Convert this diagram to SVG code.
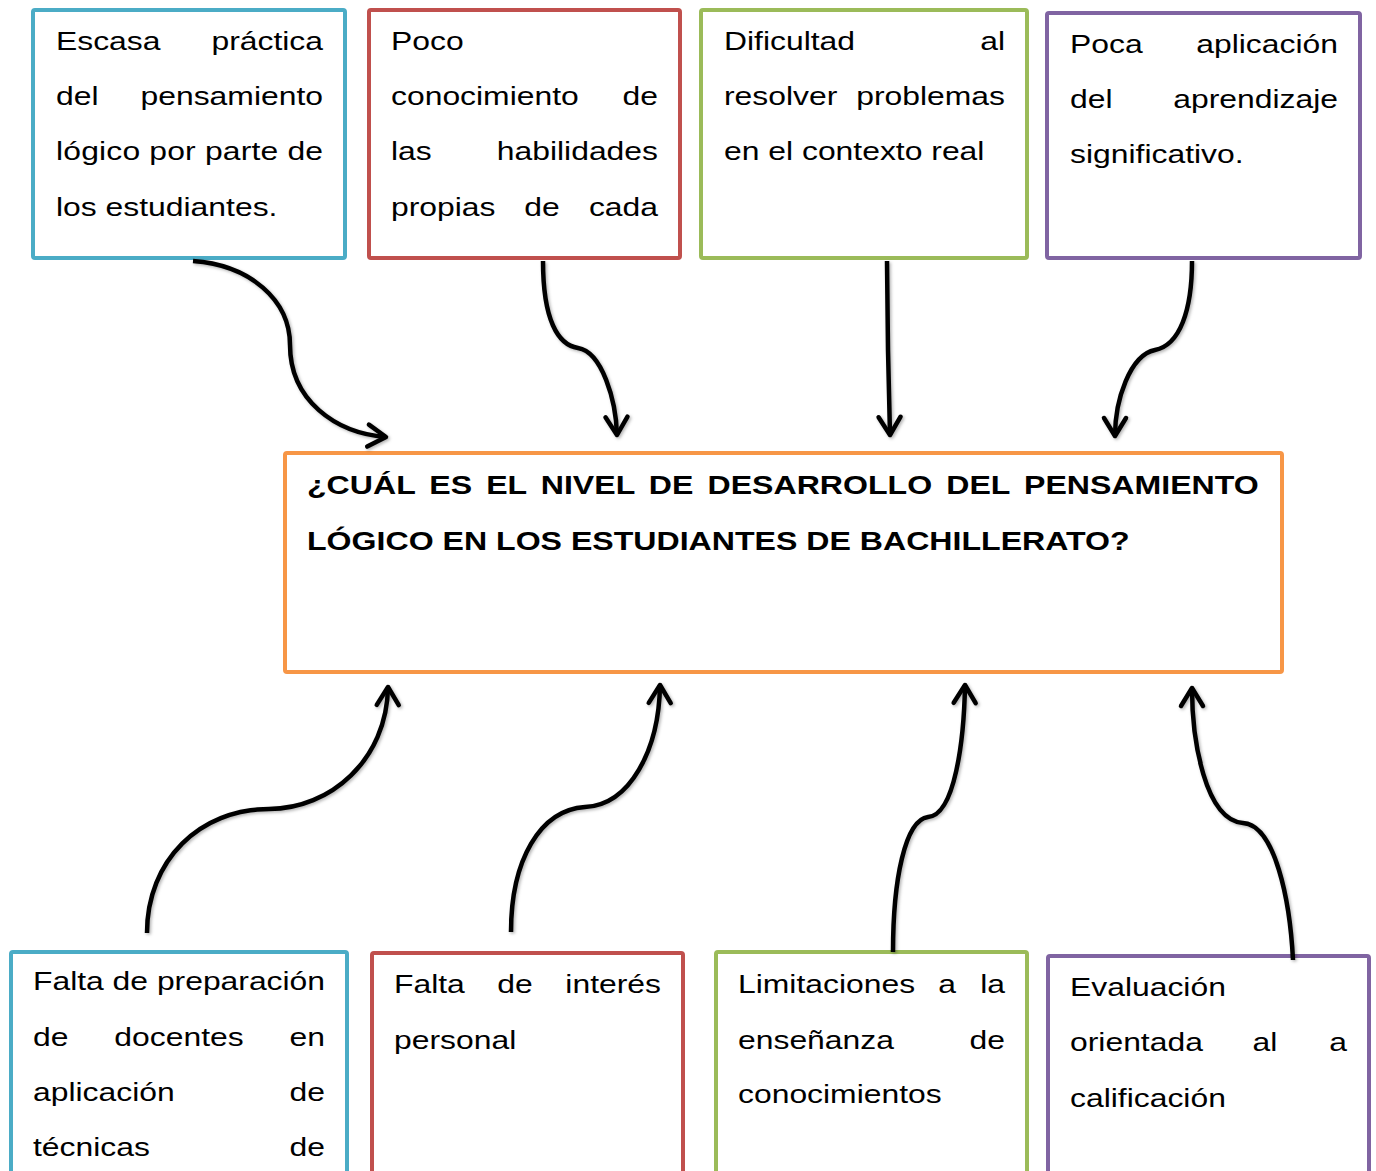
<svg xmlns="http://www.w3.org/2000/svg" width="1376" height="1171" viewBox="0 0 1376 1171">
<style>
.box{fill:#fff;stroke-width:4}
.blue{stroke:#4BACC6}.red{stroke:#C0504D}.green{stroke:#9BBB59}.purple{stroke:#8064A2}.orange{stroke:#F79646}
.t{font-family:"Liberation Sans",Arial,sans-serif;font-size:26px;fill:#000}
.b{font-weight:bold}
.e{text-anchor:end}.m{text-anchor:middle}
.arr{fill:none;stroke:#000;stroke-width:4.5;stroke-linecap:butt;stroke-linejoin:round}
</style>
<defs>
<filter id="sh" x="-20%" y="-20%" width="140%" height="140%">
<feDropShadow dx="1.5" dy="1.5" stdDeviation="1.5" flood-color="#000" flood-opacity="0.3"/>
</filter>
<marker id="ah" markerUnits="userSpaceOnUse" markerWidth="30" markerHeight="30" viewBox="0 0 30 30" refX="24" refY="15" orient="auto">
<path d="M6,4 L24,15 L6,26" fill="none" stroke="#000" stroke-width="4.5" stroke-linecap="round" stroke-linejoin="round"/>
</marker>
</defs>
<rect width="1376" height="1171" fill="#fff"/>

<g id="n1">
<rect class="box blue" x="33" y="10" width="312" height="248" rx="2"/>
<text class="t" transform="translate(56 50) scale(1.226 1)">Escasa</text>
<text class="t e" transform="translate(323 50) scale(1.226 1)">práctica</text>
<text class="t" transform="translate(56 105) scale(1.226 1)">del</text>
<text class="t e" transform="translate(323 105) scale(1.226 1)">pensamiento</text>
<text class="t" transform="translate(56 160) scale(1.226 1)" textLength="217.8" lengthAdjust="spacing">lógico por parte de</text>
<text class="t" transform="translate(56 216) scale(1.226 1)">los estudiantes.</text>
</g>

<g id="n2">
<rect class="box red" x="369" y="10" width="311" height="248" rx="2"/>
<text class="t" transform="translate(391 50) scale(1.226 1)">Poco</text>
<text class="t" transform="translate(391 105) scale(1.226 1)">conocimiento</text>
<text class="t e" transform="translate(658 105) scale(1.226 1)">de</text>
<text class="t" transform="translate(391 160) scale(1.226 1)">las</text>
<text class="t e" transform="translate(658 160) scale(1.226 1)">habilidades</text>
<text class="t" transform="translate(391 216) scale(1.226 1)">propias</text>
<text class="t m" transform="translate(542 216) scale(1.226 1)">de</text>
<text class="t e" transform="translate(658 216) scale(1.226 1)">cada</text>
</g>

<g id="n3">
<rect class="box green" x="701" y="10" width="326" height="248" rx="2"/>
<text class="t" transform="translate(724 50) scale(1.226 1)">Dificultad</text>
<text class="t e" transform="translate(1005 50) scale(1.226 1)">al</text>
<text class="t" transform="translate(724 105) scale(1.226 1)">resolver</text>
<text class="t e" transform="translate(1005 105) scale(1.226 1)">problemas</text>
<text class="t" transform="translate(724 160) scale(1.226 1)">en el contexto real</text>
</g>

<g id="n4">
<rect class="box purple" x="1047" y="13" width="313" height="245" rx="2"/>
<text class="t" transform="translate(1070 53) scale(1.226 1)">Poca</text>
<text class="t e" transform="translate(1338 53) scale(1.226 1)">aplicación</text>
<text class="t" transform="translate(1070 108) scale(1.226 1)">del</text>
<text class="t e" transform="translate(1338 108) scale(1.226 1)">aprendizaje</text>
<text class="t" transform="translate(1070 163) scale(1.226 1)">significativo.</text>
</g>

<g id="center">
<rect class="box orange" x="285" y="453" width="997" height="219" rx="2"/>
<text class="t b" transform="translate(307 494) scale(1.235 1)" style="word-spacing:4.2px">¿CUÁL ES EL NIVEL DE DESARROLLO DEL PENSAMIENTO</text>
<text class="t b" transform="translate(307 550) scale(1.235 1)">LÓGICO EN LOS ESTUDIANTES DE BACHILLERATO?</text>
</g>

<g id="n5">
<rect class="box blue" x="11" y="952" width="336" height="260" rx="2"/>
<text class="t" transform="translate(33 990) scale(1.226 1)" textLength="238.2" lengthAdjust="spacing">Falta de preparación</text>
<text class="t" transform="translate(33 1046) scale(1.226 1)">de</text>
<text class="t m" transform="translate(179 1046) scale(1.226 1)">docentes</text>
<text class="t e" transform="translate(325 1046) scale(1.226 1)">en</text>
<text class="t" transform="translate(33 1101) scale(1.226 1)">aplicación</text>
<text class="t e" transform="translate(325 1101) scale(1.226 1)">de</text>
<text class="t" transform="translate(33 1156) scale(1.226 1)">técnicas</text>
<text class="t e" transform="translate(325 1156) scale(1.226 1)">de</text>
</g>

<g id="n6">
<rect class="box red" x="372" y="953" width="311" height="260" rx="2"/>
<text class="t" transform="translate(394 993) scale(1.226 1)">Falta</text>
<text class="t m" transform="translate(515 993) scale(1.226 1)">de</text>
<text class="t e" transform="translate(661 993) scale(1.226 1)">interés</text>
<text class="t" transform="translate(394 1049) scale(1.226 1)">personal</text>
</g>

<g id="n7">
<rect class="box green" x="716" y="952" width="311" height="260" rx="2"/>
<text class="t" transform="translate(738 993) scale(1.226 1)">Limitaciones</text>
<text class="t m" transform="translate(947 993) scale(1.226 1)">a</text>
<text class="t e" transform="translate(1005 993) scale(1.226 1)">la</text>
<text class="t" transform="translate(738 1049) scale(1.226 1)">enseñanza</text>
<text class="t e" transform="translate(1005 1049) scale(1.226 1)">de</text>
<text class="t" transform="translate(738 1103) scale(1.226 1)">conocimientos</text>
</g>

<g id="n8">
<rect class="box purple" x="1048" y="956" width="321" height="260" rx="2"/>
<text class="t" transform="translate(1070 996) scale(1.226 1)">Evaluación</text>
<text class="t" transform="translate(1070 1051) scale(1.226 1)">orientada</text>
<text class="t m" transform="translate(1265 1051) scale(1.226 1)">al</text>
<text class="t e" transform="translate(1347 1051) scale(1.226 1)">a</text>
<text class="t" transform="translate(1070 1107) scale(1.226 1)">calificación</text>
</g>

<g id="connectors" filter="url(#sh)">
<path class="arr" marker-end="url(#ah)" d="M193,261 C250,265 290,300 290,345 C290,400 335,433 386,437"/>
<path class="arr" marker-end="url(#ah)" d="M543,261 C543,320 558,345 578,348 C602,352 616,400 617,435"/>
<path class="arr" marker-end="url(#ah)" d="M887,261 L888,350 L890,435"/>
<path class="arr" marker-end="url(#ah)" d="M1192,261 C1192,310 1180,345 1155,350 C1130,355 1115,400 1115,436"/>
<path class="arr" marker-end="url(#ah)" d="M147,933 C147,860 200,809 269,809 C330,809 387,760 388,687"/>
<path class="arr" marker-end="url(#ah)" d="M511,932 C511,860 540,810 585,807 C630,805 659,750 660,685"/>
<path class="arr" marker-end="url(#ah)" d="M893,952 C893,880 905,820 928,817 C955,815 964,740 965,685"/>
<path class="arr" marker-end="url(#ah)" d="M1293,960 C1290,900 1275,825 1243,823 C1205,820 1192,740 1192,688"/>
</g>
</svg>
